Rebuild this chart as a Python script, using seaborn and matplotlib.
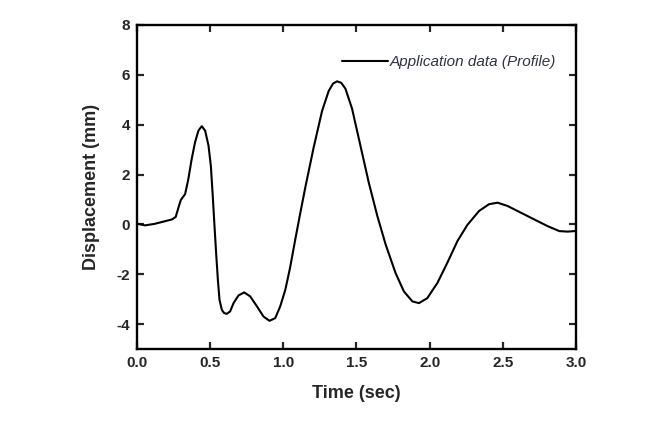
import matplotlib
matplotlib.use("Agg")
import matplotlib.pyplot as plt
import seaborn as sns
import pandas as pd

time_sec = [0.0, 0.055, 0.12, 0.18, 0.24, 0.265, 0.285, 0.3, 0.317, 0.329, 0.351, 0.374,
            0.397, 0.42, 0.443, 0.466, 0.489, 0.505, 0.518, 0.53, 0.541, 0.553, 0.564,
            0.58, 0.596, 0.614, 0.637, 0.66, 0.694, 0.733, 0.774, 0.82, 0.865, 0.906,
            0.945, 0.979, 1.014, 1.046, 1.082, 1.116, 1.151, 1.208, 1.265, 1.31, 1.34,
            1.368, 1.396, 1.425, 1.47, 1.527, 1.584, 1.642, 1.699, 1.767, 1.824, 1.882,
            1.927, 1.984, 2.053, 2.121, 2.19, 2.258, 2.338, 2.406, 2.464, 2.532, 2.623,
            2.714, 2.806, 2.886, 2.943, 2.988, 3.0]
displacement_mm = [0.03, -0.04, 0.02, 0.11, 0.2, 0.3, 0.7, 0.98, 1.12, 1.21, 1.81, 2.62,
                   3.29, 3.76, 3.94, 3.76, 3.16, 2.35, 1.14, -0.07, -1.14, -2.22, -3.02,
                   -3.43, -3.56, -3.59, -3.49, -3.16, -2.85, -2.73, -2.89, -3.29, -3.7,
                   -3.87, -3.76, -3.29, -2.62, -1.75, -0.6, 0.45, 1.5, 3.1, 4.55, 5.35,
                   5.65, 5.74, 5.68, 5.44, 4.64, 3.16, 1.68, 0.35, -0.8, -1.95, -2.69,
                   -3.09, -3.16, -2.96, -2.35, -1.54, -0.67, -0.02, 0.54, 0.81, 0.87, 0.74,
                   0.47, 0.2, -0.07, -0.27, -0.29, -0.27, -0.26]
series_label = "Application data (Profile)"
x_ticks = [0.0, 0.5, 1.0, 1.5, 2.0, 2.5, 3.0]
y_ticks = [-4, -2, 0, 2, 4, 6, 8]

df = pd.DataFrame({"Time (sec)": time_sec, "Displacement (mm)": displacement_mm,
                   "series": series_label})

sns.set_style("ticks")
plt.rcParams["font.family"] = ["Liberation Sans", "DejaVu Sans"]

fig = plt.figure(figsize=(6.49, 4.28), dpi=100)
ax = fig.add_axes([0.211, 0.1846, 0.6765, 0.757])

sns.lineplot(data=df, x="Time (sec)", y="Displacement (mm)", hue="series",
             palette=["black"], linewidth=1.5, sort=False, ax=ax, estimator=None)
for ln in ax.get_lines():
    ln.set_solid_joinstyle("round")
    ln.set_solid_capstyle("round")

ax.set_xlim(0, 3.0)
ax.set_ylim(-5, 8)
ax.set_xticks(x_ticks)
ax.set_xticklabels([f"{v:.1f}" for v in x_ticks], fontweight="bold", fontsize=11)
ax.set_yticks(y_ticks)
ax.set_yticklabels([str(v) for v in y_ticks], fontweight="bold", fontsize=11)
ax.tick_params(direction="in", length=5, width=1.6, top=True, right=True, pad=5)
for s in ax.spines.values():
    s.set_visible(True)
    s.set_linewidth(1.7)
    s.set_color("black")

ax.set_xlabel("Time (sec)", fontweight="bold", fontsize=13, labelpad=11)
ax.set_ylabel("Displacement (mm)", fontweight="bold", fontsize=13, labelpad=12)

leg = ax.legend(loc="center right", frameon=False, fontsize=11, handlelength=3.0,
                handletextpad=0.15, borderaxespad=0, borderpad=0,
                bbox_to_anchor=(0.955, 0.886))
for t in leg.get_texts():
    t.set_fontstyle("italic")
    t.set_color("#2e3440")

fig.savefig("out.png", dpi=100)
